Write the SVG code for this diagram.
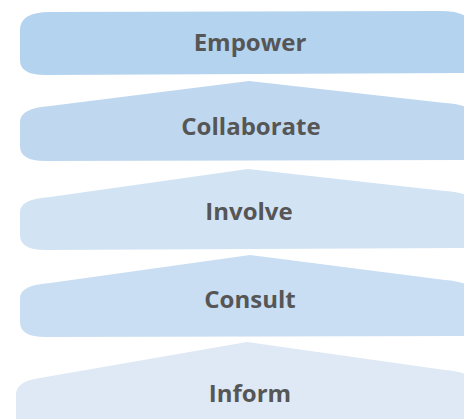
<svg xmlns="http://www.w3.org/2000/svg" width="464" height="419" viewBox="0 0 464 419">
<style>
.lbl{font-family:"Open Sans","Liberation Sans",sans-serif;font-weight:700;font-size:24px;fill:#565656;text-anchor:middle}
</style>
<rect width="464" height="419" fill="#ffffff"/>
<g id="inform">
<path d="M247,342 L445,370 Q470,372 470,380 L470,425 L16,425 L16,395 Q16,381 40,378 Z" fill="#dee9f5"/>
<text class="lbl" x="250" y="402">Inform</text>
</g>
<g id="consult">
<path d="M250,255 L445,280 Q470,282 470,290 L470,336 L45,337 Q20,337 20,322 L20,298 Q20,285 50,283 Z" fill="#c9def3"/>
<text class="lbl" x="250" y="308">Consult</text>
</g>
<g id="involve">
<path d="M248,169 L445,191 Q470,193 470,200 L470,248 L45,250 Q20,250 20,235 L20,212 Q20,199 50,197 Z" fill="#d2e4f4"/>
<text class="lbl" x="249" y="220">Involve</text>
</g>
<g id="collaborate">
<path d="M249,81 L445,103 Q470,105 470,112 L470,160 L45,161 Q20,161 20,146 L20,122 Q20,108 50,106 Z" fill="#c0d8ef"/>
<text class="lbl" x="251" y="135">Collaborate</text>
</g>
<g id="empower">
<path d="M20,30 Q20,12 50,12 L440,11 Q470,11 470,25 L470,73 L45,75 Q20,75 20,60 Z" fill="#b4d3ee"/>
<text class="lbl" x="250" y="51">Empower</text>
</g>
<g id="connectors"/>
</svg>
